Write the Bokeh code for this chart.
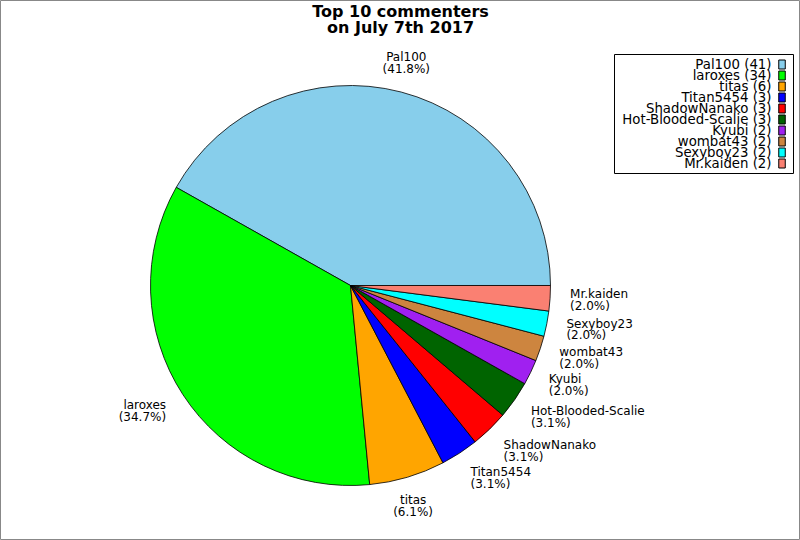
import math
from bokeh.plotting import figure
from bokeh.models import ColumnDataSource, Range1d
from bokeh.core.properties import value
from bokeh.embed import file_html
from bokeh.resources import INLINE

title_lines = ["Top 10 commenters", "on July 7th 2017"]
names = ["Pal100", "laroxes", "titas", "Titan5454", "ShadowNanako",
         "Hot-Blooded-Scalie", "Kyubi", "wombat43", "Sexyboy23", "Mr.kaiden"]
counts = [41, 34, 6, 3, 3, 3, 2, 2, 2, 2]
colors = ["#87CEEB", "#00FF00", "#FFA500", "#0000FF", "#FF0000",
          "#006400", "#A020F0", "#CD853F", "#00FFFF", "#FA8072"]

FONT = "DejaVu Sans"
R = 200.0
W, H = 800, 540
CX, CY = 350, 285  # pie centre in screen pixels

total = float(sum(counts))
starts, ends = [], []
acc = 0.0
for c in counts:
    starts.append(2 * math.pi * acc / total)
    acc += c
    ends.append(2 * math.pi * acc / total)

p = figure(width=W, height=H, x_range=Range1d(-CX, W - CX), y_range=Range1d(CY - H, CY),
           output_backend="svg", toolbar_location=None, min_border=0,
           x_axis_location=None, y_axis_location=None)
p.grid.visible = False
p.outline_line_color = "#888888"
p.background_fill_color = "white"
p.border_fill_color = "white"

wsrc = ColumnDataSource(dict(start=starts, end=ends, color=colors, name=names))
p.wedge(x=0, y=0, radius=R, start_angle="start", end_angle="end", fill_color="color",
        line_color="black", line_width=0.8, source=wsrc)

# slice labels
lx, ly, ltxt, lalign = [], [], [], []
for n, c, s, e in zip(names, counts, starts, ends):
    m = (s + e) / 2
    cs, sn = math.cos(m), math.sin(m)
    lx.append(1.1 * R * cs)
    ly.append(1.1 * R * sn + 10 * sn)
    ltxt.append("%s\n(%.1f%%)" % (n, 100.0 * c / total))
    lalign.append("left" if cs > 0.4 else ("right" if cs < -0.4 else "center"))
lsrc = ColumnDataSource(dict(x=lx, y=ly, text=ltxt, align=lalign))
p.text(x="x", y="y", text="text", text_align="align", text_baseline="middle",
       text_font=value(FONT), text_font_size="12px", text_line_height=0.85,
       text_color="black", source=lsrc)

# title
p.text(x=[400 - CX], y=[CY - 1], text=["\n".join(title_lines)], text_align="center",
       text_baseline="top", text_font=value(FONT), text_font_style="bold",
       text_font_size="16px", text_line_height=0.85, text_color="black")

# legend
p.quad(left=[614 - CX], right=[793 - CX], top=[CY - 54], bottom=[CY - 173],
       fill_color="white", line_color="black", line_width=1)
rows = list(range(len(names)))
gy = [CY - 64 - 11 * i for i in rows]
gtxt = ["%s (%d)" % (n, c) for n, c in zip(names, counts)]
p.text(x=[771 - CX] * len(rows), y=gy, text=gtxt, text_align="right", text_baseline="middle",
       text_font=value(FONT), text_font_size="13.3px", text_color="black")
p.rect(x=[781.5 - CX] * len(rows), y=gy, width=6.5, height=9, fill_color=colors,
       line_color="black", line_width=1)

open("out.html", "w").write(file_html(p, INLINE))
